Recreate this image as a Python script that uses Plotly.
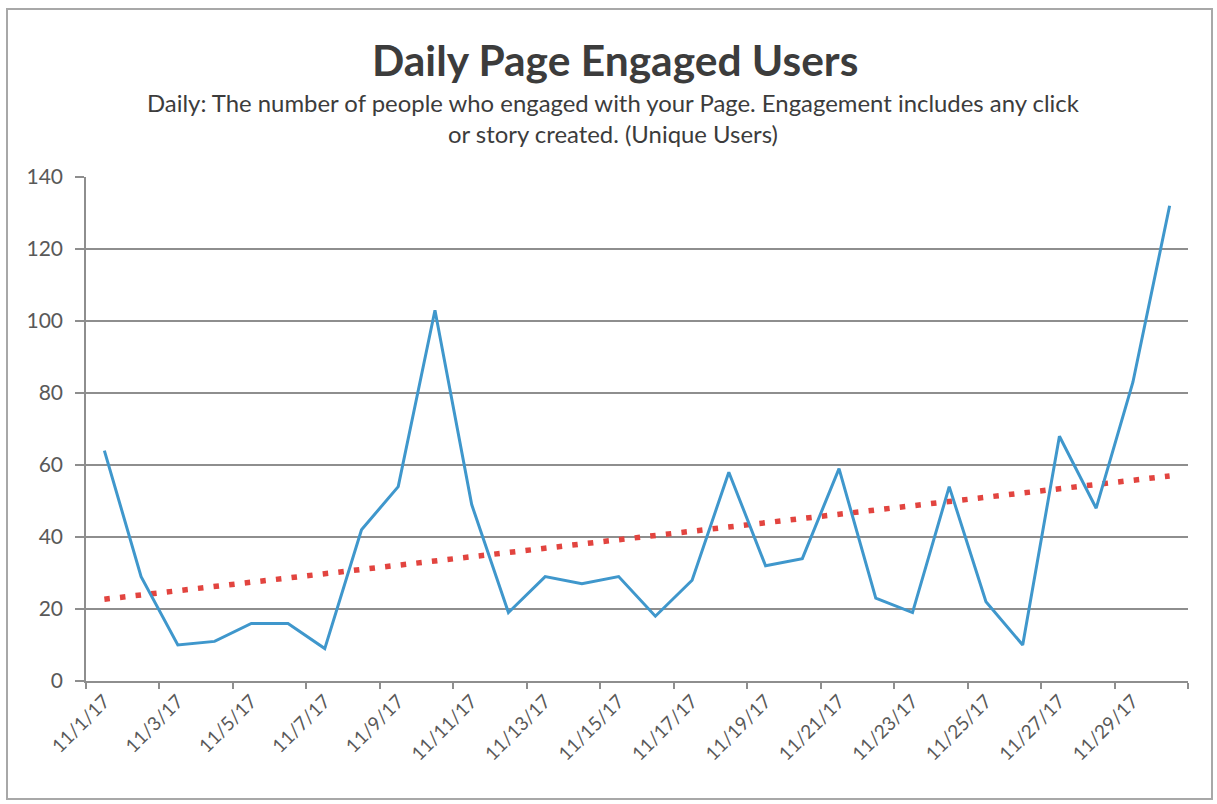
import numpy as np
import plotly.graph_objects as go

# Daily engaged users, November 2017
dates = [f"11/{d}/17" for d in range(1, 31)]
engaged_users = [64, 29, 10, 11, 16, 16, 9, 42, 54, 103,
                 49, 19, 29, 27, 29, 18, 28, 58, 32, 34,
                 59, 23, 19, 54, 22, 10, 68, 48, 83, 132]
y_ticks = [0, 20, 40, 60, 80, 100, 120, 140]

W, H = 1217, 804
L, R, T, B = 86, 29, 177, 123
PW, PH = W - L - R, H - T - B

idx = np.arange(len(dates))
slope, intercept = np.polyfit(idx, engaged_users, 1)
trend = slope * idx + intercept

BLUE = "#3F97CC"
RED = "#E2443F"
GRID = "#8E8E8E"
TEXT = "#3C3C3C"
TICK = "#595959"
FONT = "Lato"


def px_x(p):
    return (p - L) / PW


def px_y(p):
    return (H - B - p) / PH


fig = go.Figure()
fig.add_trace(go.Scatter(
    x=idx, y=trend, mode="lines",
    line=dict(color=RED, width=5.5, dash="5.5px,10.2px"),
    hoverinfo="skip", showlegend=False,
))
fig.add_trace(go.Scatter(
    x=idx, y=engaged_users, mode="lines",
    line=dict(color=BLUE, width=3),
    text=dates, hovertemplate="%{text}: %{y}<extra></extra>",
    showlegend=False,
))

fig.update_layout(
    width=W, height=H,
    margin=dict(l=L, r=R, t=T, b=B),
    paper_bgcolor="white", plot_bgcolor="white",
    font=dict(family=FONT, color=TICK),
    xaxis=dict(
        range=[-0.5, len(dates) - 0.5],
        tickmode="array", tickvals=idx[::2], ticktext=dates[::2],
        tickangle=-45, ticks="", showgrid=False,
        showline=True, linecolor=GRID, linewidth=1.5,
        tickfont=dict(size=19, color=TICK, family=FONT),
        minor=dict(tickmode="linear", tick0=-0.5, dtick=2, ticks="outside",
                   ticklen=6, tickcolor=GRID, tickwidth=1.5, showgrid=False),
        zeroline=False, fixedrange=True,
    ),
    yaxis=dict(
        range=[0, 140], tickvals=y_ticks,
        showgrid=True, gridcolor=GRID, gridwidth=1.5,
        ticks="outside", ticklen=9, tickcolor=GRID, tickwidth=1.5,
        showline=True, linecolor=GRID, linewidth=1.5,
        ticklabelstandoff=8,
        tickfont=dict(size=21, color=TICK, family=FONT),
        zeroline=False, fixedrange=True,
    ),
    annotations=[
        dict(text="<b>Daily Page Engaged Users</b>", xref="paper", yref="paper",
             x=px_x(615), y=px_y(60), xanchor="center", yanchor="middle",
             showarrow=False, font=dict(size=42.5, color=TEXT, family=FONT)),
        dict(text="Daily: The number of people who engaged with your Page. Engagement includes any click"
                  "<br>or story created. (Unique Users)",
             xref="paper", yref="paper", x=px_x(613), y=px_y(118),
             xanchor="center", yanchor="middle", showarrow=False,
             font=dict(size=23.9, color=TEXT, family=FONT)),
    ],
    shapes=[
        dict(type="rect", xref="paper", yref="paper",
             x0=px_x(7), x1=px_x(1212), y0=px_y(799), y1=px_y(9),
             line=dict(color="#A8A8A8", width=2), layer="below"),
    ],
)

fig.write_html("out.html")
